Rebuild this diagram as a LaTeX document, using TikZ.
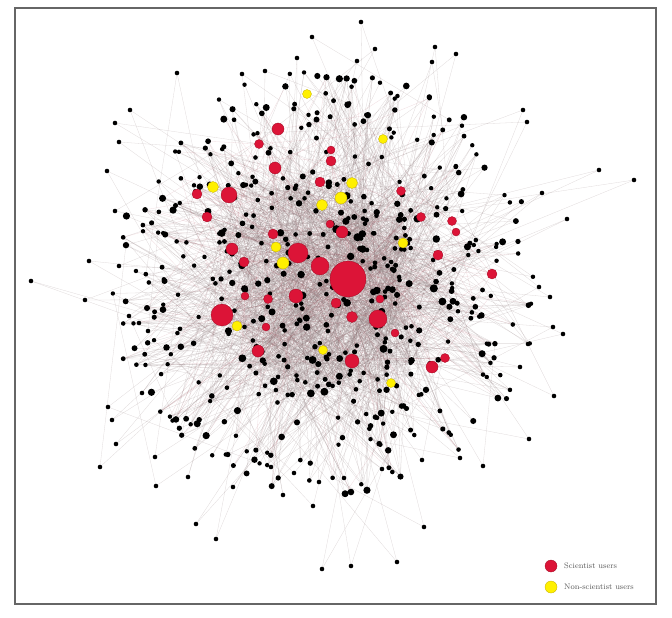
\documentclass[tikz,border=0pt]{standalone}

\definecolor{scired}{RGB}{220,20,55}
\definecolor{scirim}{RGB}{160,10,35}
\definecolor{nonyel}{RGB}{255,240,0}
\definecolor{nonrim}{RGB}{195,175,0}
\definecolor{linkgray}{RGB}{140,120,122}
\definecolor{linkred}{RGB}{165,60,75}

\pgfdeclarelayer{edges}
\pgfsetlayers{edges,main}

\tikzset {
    user/.style={circle, fill=black, inner sep=0pt},
    sci/.style={circle, fill=scired, draw=scirim, line width=0.3pt, inner sep=0pt},
    nonsci/.style={circle, fill=nonyel, draw=nonrim, line width=0.3pt, inner sep=0pt},
    link/.style={draw=linkgray, line width=0.3pt, opacity=0.28},
    hotlink/.style={draw=linkred, line width=0.3pt, opacity=0.18},
    key/.style={font=\fontsize{8}{9}\selectfont, text=black!65, anchor=west, inner sep=0pt},
    frame/.style={draw=black!60, line width=1.2pt},
}

\begin{document}
\begin{tikzpicture}[x=1pt, y=-1pt]
    \useasboundingbox (0,0) rectangle (672,618);
    \draw [frame] (15,8) rectangle (656,604);

    \pgfmathsetseed{2718}
    \foreach \i in {1,...,240} {
        \pgfmathsetmacro\ang{360*rnd}
        \pgfmathsetmacro\rad{0.62*sqrt(rnd)}
        \pgfmathsetmacro\px{327+195*\rad*cos(\ang)}
        \pgfmathsetmacro\py{285+190*\rad*sin(\ang)}
        \pgfmathsetmacro\sz{4.6+3.6*rnd^3}
        \node (b\i) at (\px,\py) [user, minimum size=\sz] {};
    }
    \foreach \i in {241,...,540} {
        \pgfmathsetmacro\ang{360*rnd}
        \pgfmathsetmacro\rad{sqrt(0.384+0.826*rnd)}
        \pgfmathsetmacro\px{327+198*\rad*cos(\ang)}
        \pgfmathsetmacro\py{283+195*\rad*sin(\ang)}
        \pgfmathsetmacro\sz{4.4+3*rnd^3}
        \node (b\i) at (\px,\py) [user, minimum size=\sz] {};
    }
    \foreach \x/\y [count=\k] in {361/22, 312/37, 375/49, 435/47, 456/54, 297/58,
        357/61, 432/62, 177/73, 242/74, 265/71, 130/110, 115/123, 107/171,
        119/142, 523/110, 527/122, 542/193, 599/170, 634/180, 567/219, 550/297,
        563/334, 553/327, 539/287, 528/344, 520/367, 554/396, 529/439, 483/466,
        460/458, 422/460, 382/469, 344/478, 319/482, 294/473, 271/467, 313/506,
        283/495, 233/487, 188/477, 155/457, 116/444, 100/467, 156/486, 196/524,
        216/539, 322/569, 351/566, 397/562, 424/527, 108/407, 112/420, 142/393,
        31/281, 85/300, 89/261, 119/266, 115/211, 129/316, 139/323, 148/331} {
        \node (o\k) at (\x,\y) [user, minimum size=4.6] {};
    }

    \foreach \x/\y/\s [count=\k] in {348/279/18, 298/253/10, 222/315/11,
        320/266/9, 378/319/9, 229/195/8, 352/361/7, 296/296/7, 432/367/6,
        278/129/6, 275/168/6, 258/351/6, 232/249/6, 342/232/6, 352/317/5.5,
        197/194/5, 207/217/5, 320/182/5, 331/161/5, 438/255/5, 492/274/5,
        244/262/5, 273/234/5, 336/303/5, 259/144/4.5, 401/191/4.5,
        421/217/4.5, 452/221/4.5, 268/299/4.5, 445/358/4.5, 331/150/4,
        456/232/4, 245/296/4, 266/327/4, 330/224/4, 380/299/4, 395/333/4} {
        \node (r\k) at (\x,\y) [sci, minimum size=2*\s] {};
    }
    \foreach \x/\y/\s [count=\k] in {307/94/4.5, 383/139/4.5, 352/183/5.5,
        341/198/6, 322/205/5.5, 213/187/5.5, 276/247/5, 283/263/6,
        237/326/5, 403/243/5, 323/350/4.5, 391/383/4.5} {
        \node (y\k) at (\x,\y) [nonsci, minimum size=2*\s] {};
    }

    \begin{pgfonlayer}{edges}
        \foreach \k in {1,...,1600} {
            \pgfmathtruncatemacro\a{random(1,540)}
            \pgfmathtruncatemacro\b{random(1,240)}
            \draw [link] (b\a) -- (b\b);
        }
        \foreach \k in {1,...,62} {
            \pgfmathtruncatemacro\b{random(1,240)}
            \pgfmathtruncatemacro\c{random(241,540)}
            \draw [link] (o\k) -- (b\b);
            \draw [link] (o\k) -- (b\c);
        }
        \foreach \k in {1,...,260} {
            \pgfmathtruncatemacro\r{1+36*rnd^2.5}
            \pgfmathtruncatemacro\b{random(1,540)}
            \draw [hotlink] (r\r) -- (b\b);
        }
        \foreach \k in {1,...,12} {
            \pgfmathtruncatemacro\b{random(1,240)}
            \pgfmathtruncatemacro\c{random(1,540)}
            \draw [link] (y\k) -- (b\b);
            \draw [link] (y\k) -- (b\c);
        }
    \end{pgfonlayer}

    \node (keysci) at (551,566) [sci, minimum size=12] {};
    \node (keynon) at (551,587) [nonsci, minimum size=12] {};
    \node (keyscitext) at (564,566) [key] {Scientist users};
    \node (keynontext) at (564,587) [key] {Non-scientist users};
\end{tikzpicture}
\end{document}
